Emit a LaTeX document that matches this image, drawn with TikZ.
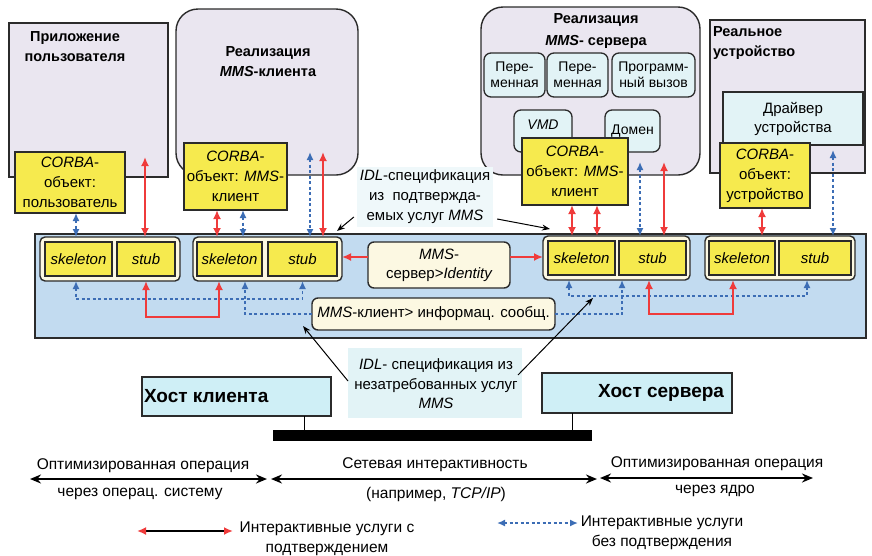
\documentclass[tikz,border=0pt]{standalone}
\usepackage{fontspec}
\setmainfont{Liberation Sans}
\usetikzlibrary{arrows.meta,calc}

\definecolor{lav}{HTML}{EAE6F0}
\definecolor{cyanl}{HTML}{E2F3F6}
\definecolor{yel}{HTML}{F6EA4E}
\definecolor{cream}{HTML}{FCF8E2}
\definecolor{band}{HTML}{C2DBF0}
\definecolor{hostc}{HTML}{CFEFF6}
\definecolor{redc}{HTML}{EF3B3B}
\definecolor{bluec}{HTML}{3C6DB5}
\definecolor{edge}{HTML}{2B2B2B}

% box given by its corners (x1,y1)-(x2,y2), y growing downwards
\newcommand\boxat[7]{\node[#1, anchor=north west, minimum width={#5-#3}, minimum height={#6-#4}] (#2) at (#3,#4) {#7};}

\tikzset{
  every node/.style={inner sep=0pt, outer sep=0pt},
  ttl/.style={font=\bfseries\fontsize{14.5}{20}\selectfont, align=center},
  area/.style={draw=edge, line width=1.4pt, fill=lav},
  yelbox/.style={draw=edge, line width=1.4pt, fill=yel, align=center, font=\fontsize{15}{20}\selectfont},
  grp/.style={draw=edge, line width=1.4pt, fill=cream, rounded corners=5pt},
  part/.style={draw=edge, line width=1.4pt, fill=yel, font=\itshape\fontsize{15}{18}\selectfont},
  inbox/.style={draw=edge, line width=1.3pt, fill=cyanl, rounded corners=7pt, align=center, font=\fontsize{14}{16}\selectfont},
  msg/.style={draw=edge, line width=1.4pt, fill=cream, rounded corners=6pt, align=center, font=\fontsize{15}{19}\selectfont},
  host/.style={draw=edge, line width=1.4pt, fill=hostc},
  hosttxt/.style={font=\bfseries\fontsize{19}{22}\selectfont},
  txt/.style={align=center, font=\fontsize{15.5}{20}\selectfont},
  ra/.style={draw=redc, line width=2.3pt, {Latex[length=9pt,width=8pt]}-{Latex[length=9pt,width=8pt]}},
  ras/.style={draw=redc, line width=2.3pt, -{Latex[length=9pt,width=8pt]}},
  ba/.style={draw=bluec, line width=1.7pt, dash pattern=on 3pt off 2.5pt, {Latex[length=8pt,width=7pt]}-{Latex[length=8pt,width=7pt]}},
  bas/.style={draw=bluec, line width=1.7pt, dash pattern=on 3pt off 2.5pt, -{Latex[length=8pt,width=7pt]}},
  pointer/.style={draw=black, line width=1pt, -{Stealth[length=8pt,width=6pt]}},
  span/.style={draw=black, line width=2.2pt, {Stealth[length=11pt,width=9pt]}-{Stealth[length=11pt,width=9pt]}},
}

\begin{document}
\begin{tikzpicture}[x=1pt,y=-1pt]
\useasboundingbox (0,0) rectangle (872,555);

% ---------- application level ----------
\boxat{area}{app}{9}{23}{168}{177}{}
\boxat{area, rounded corners=22pt}{mmsc}{176}{9}{358}{175}{}
\boxat{area, rounded corners=22pt}{mmss}{481}{7}{700}{175}{}
\boxat{area}{dev}{710}{20}{865}{173}{}

\node[ttl] (appT) at (75,47) {Приложение\\пользователя};
\node[ttl] (mmscT) at (268,62) {Реализация\\{\itshape MMS}-клиента};
\node[ttl, font=\bfseries\fontsize{14.5}{22}\selectfont] (mmssT) at (596,31) {Реализация\\{\itshape MMS}- сервера};
\node[ttl, align=left, anchor=west] (devT) at (713,43) {Реальное\\устройство};

% server objects
\boxat{inbox}{var1}{484}{53}{545}{97}{Пере-\\менная}
\boxat{inbox}{var2}{547}{53}{608}{97}{Пере-\\менная}
\boxat{inbox}{prog}{612}{53}{695}{97}{Программ-\\ный вызов}
\boxat{inbox}{vmd}{514}{110}{572}{152}{}
\node[font=\itshape\fontsize{14}{16}\selectfont] (vmdT) at (543,125) {VMD};
\boxat{inbox}{dom}{605}{110}{660}{152}{Домен}
\boxat{inbox, rounded corners=0pt, font=\fontsize{15}{19}\selectfont}{drv}{723}{92}{863}{145}{Драйвер\\устройства}

% CORBA objects
\boxat{yelbox}{cu}{15}{152}{125}{213}{{\itshape CORBA}-\\объект:\\пользователь}
\boxat{yelbox}{cc}{184}{143}{287}{210}{{\itshape CORBA}-\\объект: {\itshape MMS}-\\клиент}
\boxat{yelbox}{cs}{522}{138}{628}{205}{{\itshape CORBA}-\\объект: {\itshape MMS}-\\клиент}
\boxat{yelbox}{cd}{720}{143}{810}{208}{{\itshape CORBA}-\\объект:\\устройство}

% ---------- ORB band ----------
\boxat{draw=edge, line width=1.4pt, fill=band}{orb}{35}{234}{866}{338}{}

\boxat{grp}{g1}{40}{237}{180}{281}{}
\boxat{grp}{g2}{193}{237}{342}{281}{}
\boxat{grp}{g3}{543}{236}{690}{280}{}
\boxat{grp}{g4}{705}{236}{855}{280}{}

\boxat{part}{sk1}{45}{242}{112}{276}{skeleton}
\boxat{part}{st1}{117}{242}{175}{276}{stub}
\boxat{part}{sk2}{197}{242}{262}{276}{skeleton}
\boxat{part}{st2}{268}{242}{337}{276}{stub}
\boxat{part}{sk3}{548}{241}{615}{275}{skeleton}
\boxat{part}{st3}{619}{241}{686}{275}{stub}
\boxat{part}{sk4}{709}{241}{775}{275}{skeleton}
\boxat{part}{st4}{779}{241}{851}{275}{stub}

\boxat{msg}{ident}{368}{242}{510}{288}{{\itshape MMS}-\\сервер>{\itshape Identity}}
\boxat{msg}{info}{312}{298}{555}{330}{{\itshape MMS}-клиент> информац. сообщ.}

% ---------- confirmed / unconfirmed services ----------
\coordinate (u1) at (145,157);
\coordinate (u2) at (310,152);
\coordinate (u3) at (323,152);
\coordinate (u4) at (640,162);
\coordinate (u5) at (664,162);
\coordinate (u6) at (833,150);

\draw[ba] ([xshift=6pt]cu.south) -- ([xshift=6pt]cu.south |- g1.north);
\draw[ra] (u1) -- (u1 |- g1.north);
\draw[ra] ([xshift=-18.5pt]cc.south) -- ([xshift=-18.5pt]cc.south |- g2.north);
\draw[ba] ([xshift=7.5pt]cc.south) -- ([xshift=7.5pt]cc.south |- g2.north);
\draw[ba] (u2) -- (u2 |- g2.north);
\draw[ra] (u3) -- (u3 |- g2.north);

\draw[ra] ([xshift=-3pt]cs.south) -- ([xshift=-3pt]cs.south |- g3.north);
\draw[ra] ([xshift=22pt]cs.south) -- ([xshift=22pt]cs.south |- g3.north);
\draw[ba] (u4) -- (u4 |- g3.north);
\draw[ra] (u5) -- (u5 |- g3.north);
\draw[ra] ([xshift=-3pt]cd.south) -- ([xshift=-3pt]cd.south |- g4.north);
\draw[ba] (u6) -- (u6 |- g4.north);

% Identity request
\draw[ras] ([yshift=8pt]ident.west) -- ([yshift=8pt]ident.west -| g2.east);
\draw[ras] ([yshift=8pt]ident.east) -- ([yshift=8pt]ident.east -| g3.west);

% routes below the band
\draw[ba] ([xshift=-2.5pt]sk1.south |- g1.south) -- ++(0,18) -| (st2.south |- g2.south);
\draw[bas] (info.west) -| ([xshift=15.5pt]sk2.south |- g2.south);
\draw[ra] (st1.south |- g1.south) -- ++(0,36) -| ([xshift=-10.5pt]sk2.south |- g2.south);
\draw[ba] ([xshift=-12.5pt]sk3.south |- g3.south) -- ++(0,16) -| ([xshift=-8pt]st4.south |- g4.south);
\draw[bas] (info.east) -| ([xshift=7pt]sk3.east |- g3.south);
\draw[ra] ([xshift=-3.5pt]st3.south |- g3.south) -- ++(0,34) -| ([xshift=-9pt]sk4.south |- g4.south);

% ---------- IDL notes ----------
\node[txt, fill=cyanl!55, inner sep=3pt, font=\fontsize{15}{20}\selectfont] (idlt) at (425,197) {{\itshape IDL}-спецификация\\из\ \ подтвержда-\\емых услуг {\itshape MMS}};
\coordinate (t1) at (337,231);
\coordinate (t2) at (550,229);
\draw[pointer] ([xshift=-3pt,yshift=10pt]idlt.south west) -- (t1);
\draw[pointer] ([xshift=4pt,yshift=8pt]idlt.south east) -- (t2);

\boxat{fill=cyanl}{idlb}{348}{348}{522}{418}{}
\node[txt, font=\fontsize{15}{19.5}\selectfont] (idlbT) at (436,384) {{\itshape IDL}- спецификация из\\незатребованных услуг\\{\itshape MMS}};
\coordinate (b1) at (303,326);
\coordinate (b2) at (593,298);
\draw[pointer] ([yshift=2pt]idlb.west) -- (b1);
\draw[pointer] ([xshift=-4pt,yshift=8pt]idlb.east) -- (b2);

% ---------- hosts and network ----------
\boxat{host}{hc}{142}{377}{331}{416}{}
\boxat{host}{hs}{542}{373}{732}{413}{}
\node[hosttxt, anchor=west] (hcT) at (144,396) {Хост клиента};
\node[hosttxt, anchor=east] (hsT) at (724,393) {Хост сервера};
\boxat{fill=black}{net}{273}{430}{592}{441}{}
\draw[line width=1pt] ([xshift=-27pt]hc.south east) -- ([xshift=-27pt]hc.south east |- net.north);
\draw[line width=1pt] ([xshift=30pt]hs.south west) -- ([xshift=30pt]hs.south west |- net.north);

% ---------- interaction ranges ----------
\coordinate (r0) at (30,479);
\coordinate (r1) at (267,479);
\coordinate (r2) at (271,479);
\coordinate (r3) at (597,479);
\coordinate (r4) at (600,478);
\coordinate (r5) at (813,478);
\draw[span] (r0) -- (r1);
\draw[span] (r2) -- (r3);
\draw[span] (r4) -- (r5);
\node[txt] (o1) at (143,466) {Оптимизированная операция};
\node[txt] (o2) at (140,494) {через операц. систему};
\node[txt] (n1) at (435,465) {Сетевая интерактивность};
\node[txt] (n2) at (436,494) {(например, {\itshape TCP/IP})};
\node[txt] (k1) at (717,464) {Оптимизированная операция};
\node[txt] (k2) at (715,491) {через ядро};

% ---------- legend ----------
\coordinate (l1) at (137,531);
\coordinate (l2) at (233,531);
\coordinate (l3) at (497,523);
\coordinate (l4) at (578,523);
\draw[black, line width=2.2pt, {Latex[length=9pt,width=8pt,color=redc]}-{Latex[length=9pt,width=8pt,color=redc]}] (l1) -- (l2);
\draw[ba] (l3) -- (l4);
\node[txt] (lg1) at (327,539) {Интерактивные услуги с\\подтверждением};
\node[txt] (lg2) at (662,533) {Интерактивные услуги\\без подтверждения};
\end{tikzpicture}
\end{document}
